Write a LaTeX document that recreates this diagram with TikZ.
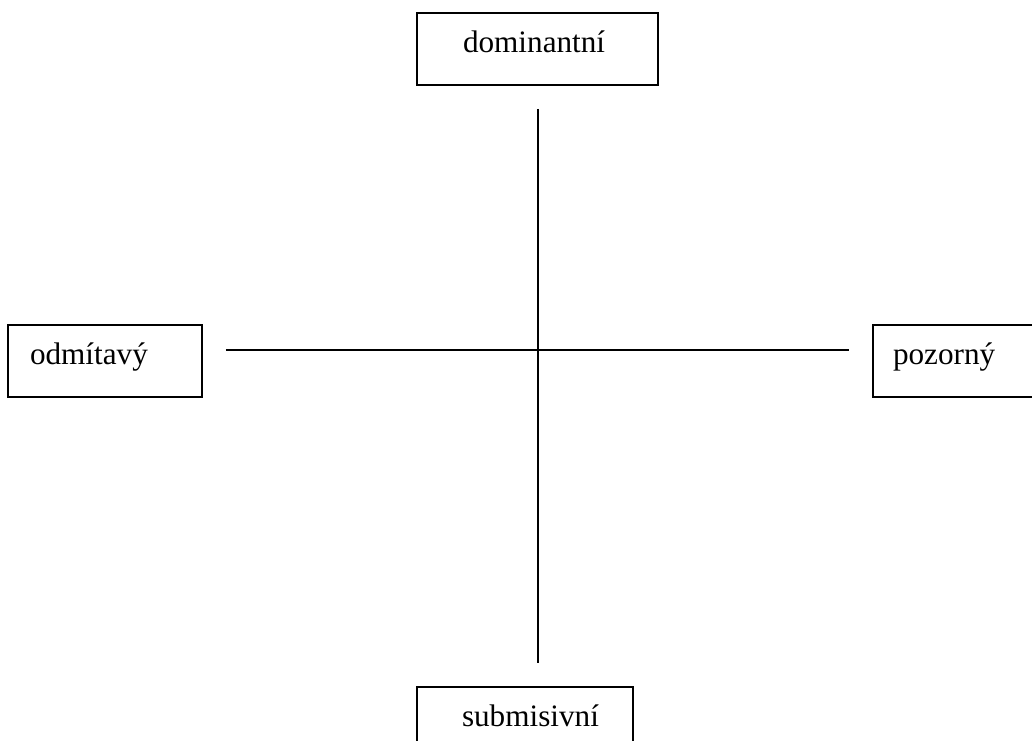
\documentclass[tikz,border=0pt]{standalone}
\usepackage{fontspec}
\setmainfont{Liberation Serif}
\usetikzlibrary{calc}
\tikzset{
  every picture/.style={font=\fontsize{23.4}{28}\selectfont, line width=0.9pt},
  box/.style={draw, inner xsep=0pt, text width=#1, align=left, minimum height=54pt,
    text height=0.75em, text depth=0.25em},
  axis/.style={draw, shorten <=17.5pt, shorten >=17.5pt},
}
\begin{document}
\begin{tikzpicture}[x=0.75pt, y=-0.75pt]
  \useasboundingbox (0,0) rectangle (1032,740);
  \clip (0,0) rectangle (1032,740);
  \node[box=180.75pt] (dom) at (537.5,49) {\hspace*{34.5pt}dominantní};
  \node[box=145.5pt] (odm) at (105,361) {\hspace*{16.5pt}odmítavý};
  \node[box=195pt] (poz) at (1003,361) {\hspace*{15pt}pozorný};
  \node[box=162pt] (sub) at (525,723) {\hspace*{33.75pt}submisivní};
  \coordinate (c) at (538,350);
  \draw[axis] (c |- dom.south) -- (c |- sub.north);
  \draw[axis] (odm.east |- c) -- (poz.west |- c);
\end{tikzpicture}
\end{document}
